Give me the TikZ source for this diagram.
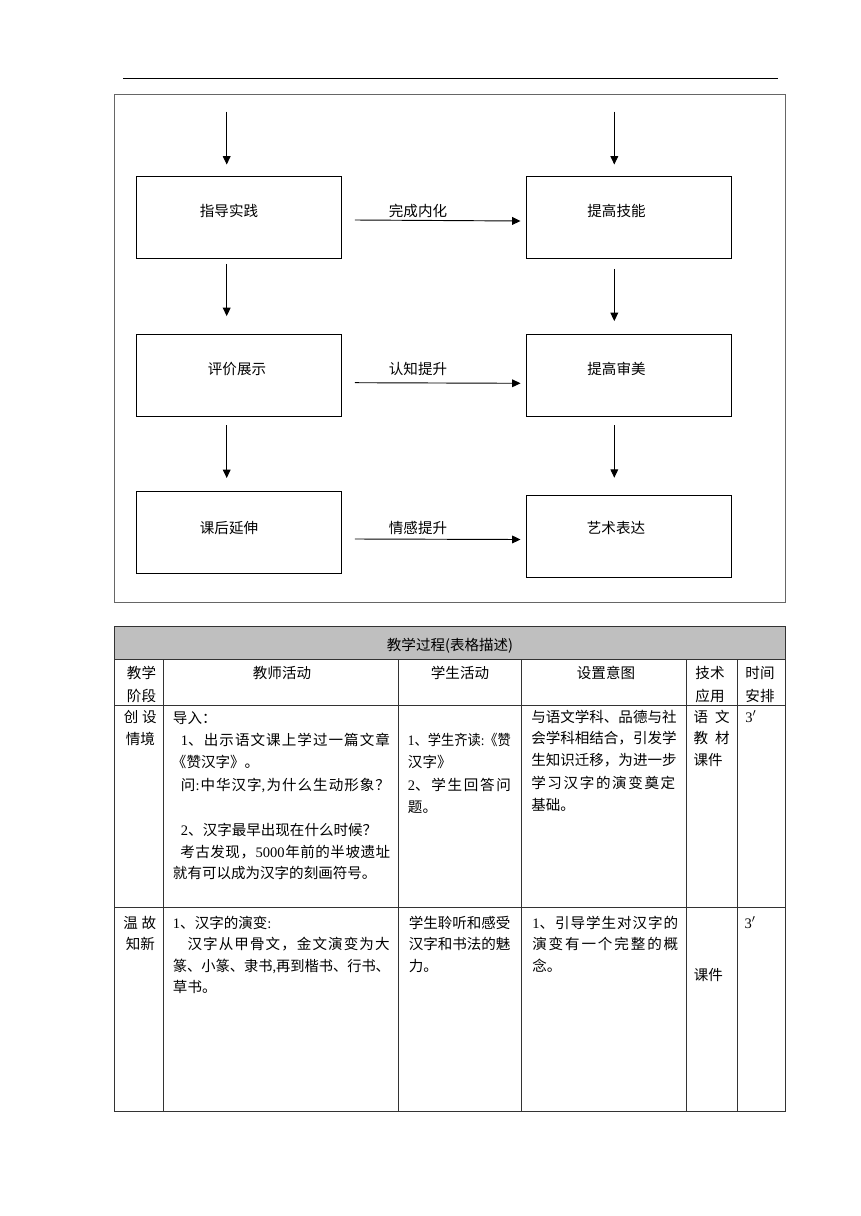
\documentclass[tikz,border=0pt]{standalone}
\usepackage{fontspec}
\usepackage{graphicx}
\setmainfont{Noto Sans CJK SC}
\newfontfamily\lat{Liberation Serif}
\usetikzlibrary{arrows.meta,calc}
\newdimen\px \px=0.75pt
\newcommand\jline[2]{\makebox[#1\px][s]{\spaceskip=0pt plus 1fil\xspaceskip=0pt plus 1fil\relax #2}}
\newcommand\fitline[2]{\resizebox{#1\px}{\height}{#2}}
\newcounter{tlc}
\newcommand\tline[2]{\stepcounter{tlc}\node[txt] (t\arabic{tlc}) at #1 {#2};}
\newcommand\fs{\fontsize{10.9pt}{13pt}\selectfont}
\tikzset{
  txt/.style={anchor=west, inner sep=0pt, text height=9.6pt, text depth=1.3pt, font=\fs},
  lbl/.style={txt, anchor=center},
  box/.style={draw=black, line width=0.7pt, minimum width=153.75pt, minimum height=61.5pt, inner sep=0pt},
  arr/.style={line width=0.7pt, draw=black, -{Triangle[length=6.3pt,width=5.8pt]}},
  grid/.style={draw=black!80, line width=0.7pt}
}
\begin{document}
\begin{tikzpicture}[x=0.75pt,y=-0.75pt]
\useasboundingbox (0,0) rectangle (860,1216);
\fill[white] (0,0) rectangle (860,1216);
% header rule
\draw[black, line width=0.7pt] (123,78) -- (778,78);
% frame
\draw[draw=black!60, line width=0.8pt] (114.7,94.3) rectangle (785.7,602.7);
% boxes
\node[box] (b1) at (238.8,217.3) {};
\node[box] (b2) at (628.8,217.3) {};
\node[box] (b3) at (238.8,375.2) {};
\node[box] (b4) at (628.8,375.2) {};
\node[box] (b5) at (238.8,532.2) {};
\node[box] (b6) at (628.8,536.6) {};
\node[lbl] (l1) at (229,211) {指导实践};
\node[lbl] (l2) at (616.5,211) {提高技能};
\node[lbl] (l3) at (237,369) {评价展示};
\node[lbl] (l4) at (616.5,369) {提高审美};
\node[lbl] (l5) at (229,528) {课后延伸};
\node[lbl] (l6) at (616,528) {艺术表达};
\node[lbl] (e1) at (418,211) {完成内化};
\node[lbl] (e2) at (418,369) {认知提升};
\node[lbl] (e3) at (418,528) {情感提升};
% vertical arrows
\coordinate (sL) at (226.7,111.7);
\coordinate (sR) at (614.3,111.7);
\draw[arr, shorten >=8.48pt] (sL) -- (sL |- b1.north);
\draw[arr, shorten >=8.48pt] (sR) -- (sR |- b2.north);
\draw[arr, shorten <=3.75pt, shorten >=13.2pt] (sL |- b1.south) -- (sL |- b3.north);
\draw[arr, shorten <=7.5pt, shorten >=9.45pt] (sR |- b2.south) -- (sR |- b4.north);
\draw[arr, shorten <=6.6pt, shorten >=9.53pt] (sL |- b3.south) -- (sL |- b5.north);
\draw[arr, shorten <=6.6pt, shorten >=13.05pt] (sR |- b4.south) -- (sR |- b6.north);
% horizontal arrows
\draw[arr] ($(b1.east)+(13,2.7)$) -- ($(b2.west)+(-5.3,3.7)$);
\draw[arr] ($(b3.east)+(13,7.5)$) -- ($(b4.west)+(-5.3,8.1)$);
\draw[arr] ($(b5.east)+(13,6.8)$) -- ($(b6.west)+(-5.3,2.9)$);
% table
\fill[black!25] (114.5,626.7) rectangle (785.7,659.3);
\draw[grid] (114.5,626.7) rectangle (785.7,1111.3);
\draw[grid] (114.5,659.3) -- (785.7,659.3);
\draw[grid] (114.5,705) -- (785.7,705);
\draw[grid] (114.5,907.3) -- (785.7,907.3);
\foreach \cx in {163.3,398.3,521.7,686,737.3}{\draw[grid] (\cx,659.3) -- (\cx,1111.3);}
\node[lbl] (th) at (450,645) {教学过程(表格描述)};
% header row
\tline{(126.7,673)}{教学}
\tline{(126.7,696)}{阶段}
\node[lbl] (h2) at (282,673) {教师活动};
\node[lbl] (h3) at (460,673) {学生活动};
\node[lbl] (h4) at (606,673) {设置意图};
\node[lbl] (h5a) at (710,673) {技术};
\node[lbl] (h5b) at (710,696) {应用};
\node[lbl] (h6a) at (760,673) {时间};
\node[lbl] (h6b) at (760,696) {安排};
% row 1
\tline{(123.5,716.7)}{\jline{33}{创 设}}
\tline{(125.5,739.3)}{情境}
\tline{(172.7,718)}{导入：}
\tline{(180.7,740)}{\jline{209}{{\lat 1}、 出 示 语 文 课 上 学 过 一 篇 文 章}}
\tline{(171.7,761.7)}{《赞汉字》。}
\tline{(180.7,785)}{\jline{209}{问{\lat :} 中 华 汉 字{\lat ,} 为 什 么 生 动 形 象 ？}}
\tline{(180.7,830)}{{\lat 2}、汉字最早出现在什么时候？}
\tline{(180,851.7)}{\jline{210}{考 古 发 现 ， {\lat 5000} 年 前 的 半 坡 遗 址}}
\tline{(172.7,873.3)}{就有可以成为汉字的刻画符号。}
\tline{(407.7,740)}{\fitline{103}{{\lat 1}、学生齐读{\lat :}《赞}}
\tline{(407.7,762)}{汉字》}
\tline{(407.7,785)}{\jline{103}{{\lat 2}、 学 生 回 答 问}}
\tline{(407.7,807)}{题。}
\tline{(531,716.7)}{与语文学科、品德与社}
\tline{(531,738.3)}{会学科相结合，引发学}
\tline{(531,760)}{生知识迁移，为进一步}
\tline{(531,783)}{\jline{144}{学 习 汉 字 的 演 变 奠 定}}
\tline{(531,805)}{基础。}
\tline{(693.3,716.7)}{\jline{36}{语 文}}
\tline{(693.3,738.3)}{\jline{36}{教 材}}
\tline{(693.3,760)}{课件}
\tline{(745,716.7)}{{\lat 3}$'$}
% row 2
\tline{(123,922.7)}{\jline{33}{温 故}}
\tline{(125.5,944.3)}{知新}
\tline{(172.7,922.7)}{{\lat 1}、汉字的演变{\lat :}}
\tline{(187.3,944.3)}{\jline{202}{汉 字 从 甲 骨 文 ， 金 文 演 变 为 大}}
\tline{(172.7,966)}{\fitline{217}{篆、小篆、隶书{\lat ,}再到楷书、行书、}}
\tline{(172.7,987.3)}{草书。}
\tline{(408.5,922.7)}{学生聆听和感受}
\tline{(408.5,944.3)}{汉字和书法的魅}
\tline{(408.5,966)}{力。}
\tline{(532,922.7)}{\jline{146}{{\lat 1}、 引 导 学 生 对 汉 字 的}}
\tline{(532,944.3)}{\jline{146}{演 变 有 一 个 完 整 的 概}}
\tline{(532,966)}{念。}
\tline{(693.5,975)}{课件}
\tline{(744.3,922.7)}{{\lat 3}$'$}
\end{tikzpicture}
\end{document}
